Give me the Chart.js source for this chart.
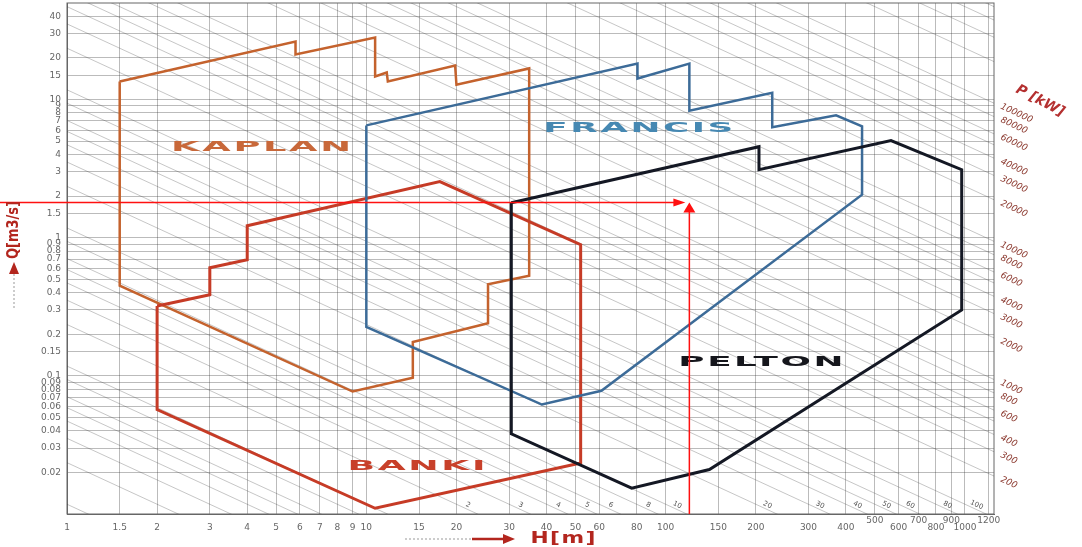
<!DOCTYPE html>
<html>
<head>
<meta charset="utf-8">
<script src="https://cdn.jsdelivr.net/npm/chart.js@4.4.0/dist/chart.umd.min.js"></script>
<style>
  html, body { margin: 0; padding: 0; background: #fff; }
</style>
</head>
<body>
<canvas id="turbines" width="1082" height="547"></canvas>
<script>
// turbine areas, head H [m] against flow Q [m3/s]
const kaplanH = [1.5, 5.8, 5.8, 10.7, 10.7, 11.7, 11.8, 19.8, 20, 35, 35, 25.5, 25.5, 14.3, 14.3, 9, 1.5, 1.5];
const kaplanQ = [13.5, 26.3, 21.2, 28.1, 14.7, 15.7, 13.5, 17.6, 12.8, 16.8, 0.53, 0.46, 0.24, 0.176, 0.097, 0.077, 0.45, 13.5];

const francisH = [10, 80.5, 80.5, 120, 120, 227, 227, 371, 453, 453, 61, 38.6, 10, 10];
const francisQ = [6.5, 18.2, 14.2, 18.2, 8.3, 11.2, 6.3, 7.7, 6.4, 2.05, 0.078, 0.062, 0.226, 6.5];

const peltonH = [30.5, 205, 205, 566, 975, 975, 140, 77, 30.5, 30.5];
const peltonQ = [1.79, 4.56, 3.11, 5.05, 3.11, 0.3, 0.021, 0.0154, 0.038, 1.79];

const bankiH = [2, 3, 3, 4, 4, 17.6, 52, 52, 10.7, 2, 2];
const bankiQ = [0.32, 0.386, 0.606, 0.693, 1.22, 2.55, 0.89, 0.0234, 0.011, 0.057, 0.32];

// worked example (red arrows)
const workH = 120;
const workQ = 1.8;

// axes
const hTicks = [1, 1.5, 2, 3, 4, 5, 6, 7, 8, 9, 10, 15, 20, 30, 40, 50, 60, 80, 100, 150, 200, 300, 400, 500, 600, 700, 800, 900, 1000, 1200];
const hUpperRow = [500, 700, 900, 1200];
const qTicks = [0.02, 0.03, 0.04, 0.05, 0.06, 0.07, 0.08, 0.09, 0.1, 0.15, 0.2, 0.3, 0.4, 0.5, 0.6, 0.7, 0.8, 0.9, 1, 1.5, 2, 3, 4, 5, 6, 7, 8, 9, 10, 15, 20, 30, 40];
const hMin = 1, hMax = 1250, qMin = 0.01, qMax = 50;

// power lines P = g * eta * Q * H [kW]
const gEta = 8.5;
const powerSteps = [1, 2, 3, 4, 5, 6, 8];
const powerDecades = [0.1, 1, 10, 100, 1000, 10000, 100000];
const pRightLabels = [100000, 80000, 60000, 40000, 30000, 20000, 10000, 8000, 6000, 4000, 3000, 2000, 1000, 800, 600, 400, 300, 200];
const pBottomLabels = [2, 3, 4, 5, 6, 8, 10, 20, 30, 40, 50, 60, 80, 100];

const area = (hs, qs, color, width) => ({
  data: hs.map((h, i) => ({ x: h, y: qs[i] })),
  showLine: true,
  borderColor: color,
  borderWidth: width,
  pointRadius: 0,
  order: 1,
});

const diagonals = [];
powerDecades.forEach((d) => {
  powerSteps.forEach((m) => {
    const p = m * d;
    diagonals.push({
      data: [{ x: hMin, y: p / (gEta * hMin) }, { x: hMax, y: p / (gEta * hMax) }],
      showLine: true,
      borderColor: "rgba(60,60,60,0.42)",
      borderWidth: 0.7,
      pointRadius: 0,
      order: 10,
    });
  });
});

function wideText(ctx, text, cx, cy, width, font, color, spacing) {
  ctx.save();
  ctx.font = font;
  ctx.letterSpacing = spacing + "px";
  const w = ctx.measureText(text).width - spacing;
  ctx.translate(cx, cy);
  ctx.scale(width / w, 1);
  ctx.fillStyle = color;
  ctx.textAlign = "left";
  ctx.textBaseline = "middle";
  ctx.fillText(text, -w / 2, 0);
  ctx.restore();
}

const overlay = {
  id: "overlay",
  beforeDatasetsDraw(chart) {
    const { ctx, chartArea: a } = chart;
    ctx.save();
    ctx.strokeStyle = "#666";
    ctx.lineWidth = 1;
    ctx.strokeRect(a.left, a.top, a.right - a.left, a.bottom - a.top);
    ctx.restore();
  },
  afterDatasetsDraw(chart) {
    const { ctx, chartArea: a, scales } = chart;
    const x = scales.x, y = scales.y;
    const dx = x.getPixelForValue(10) - x.getPixelForValue(1);
    const dy = y.getPixelForValue(1) - y.getPixelForValue(10);
    const ang = Math.atan2(dy, dx);

    // area names
    const name = "bold 14px 'DejaVu Sans'";
    wideText(ctx, "KAPLAN", x.getPixelForValue(4.45), y.getPixelForValue(4.5), 180, name, "#c8683a", 1);
    wideText(ctx, "FRANCIS", x.getPixelForValue(81), y.getPixelForValue(6.2), 190, name, "#4688b2", 1);
    wideText(ctx, "PELTON", x.getPixelForValue(208), y.getPixelForValue(0.125), 165, name, "#15161c", 1);
    wideText(ctx, "BANKI", x.getPixelForValue(14.7), y.getPixelForValue(0.0222), 138, name, "#c8402a", 1);

    // power labels on the right
    ctx.save();
    ctx.fillStyle = "#8c3a30";
    ctx.font = "italic 9px 'DejaVu Sans'";
    ctx.textBaseline = "middle";
    pRightLabels.forEach((p) => {
      const yy = y.getPixelForValue(p / (gEta * hMax));
      ctx.save();
      ctx.translate(a.right + 7, yy + 3);
      ctx.rotate(ang);
      ctx.fillText(String(p), 0, 0);
      ctx.restore();
    });
    ctx.save();
    ctx.translate(1040, 101);
    ctx.rotate(ang + 0.05);
    ctx.font = "bold italic 14px 'DejaVu Sans'";
    ctx.fillStyle = "#b43030";
    ctx.textAlign = "center";
    ctx.fillText("P [kW]", 0, 0);
    ctx.restore();
    ctx.restore();

    // power labels along the bottom
    ctx.save();
    ctx.fillStyle = "#555";
    ctx.font = "7px 'DejaVu Sans'";
    ctx.textAlign = "center";
    ctx.textBaseline = "middle";
    pBottomLabels.forEach((p) => {
      const yy = a.bottom - 9;
      const h = p / (gEta * y.getValueForPixel(yy));
      ctx.save();
      ctx.translate(x.getPixelForValue(h) + 10, yy);
      ctx.rotate(ang);
      ctx.fillText(String(p), 0, 0);
      ctx.restore();
    });
    ctx.restore();

    // red example arrows
    const px = x.getPixelForValue(workH);
    const py = y.getPixelForValue(workQ);
    ctx.save();
    ctx.strokeStyle = "#ff1010";
    ctx.fillStyle = "#ff1010";
    ctx.lineWidth = 1.5;
    ctx.beginPath();
    ctx.moveTo(0, py);
    ctx.lineTo(px - 12, py);
    ctx.moveTo(px, a.bottom);
    ctx.lineTo(px, py + 8);
    ctx.stroke();
    ctx.beginPath();
    ctx.moveTo(px - 4, py);
    ctx.lineTo(px - 16, py - 4);
    ctx.lineTo(px - 16, py + 4);
    ctx.closePath();
    ctx.fill();
    ctx.beginPath();
    ctx.moveTo(px, py);
    ctx.lineTo(px - 6, py + 10);
    ctx.lineTo(px + 6, py + 10);
    ctx.closePath();
    ctx.fill();
    ctx.restore();
  },
  afterDraw(chart) {
    const { ctx } = chart;
    ctx.save();
    // H axis title with its arrow
    ctx.strokeStyle = "#999";
    ctx.lineWidth = 1;
    ctx.setLineDash([2, 2]);
    ctx.beginPath();
    ctx.moveTo(405, 539);
    ctx.lineTo(472, 539);
    ctx.stroke();
    ctx.setLineDash([]);
    ctx.strokeStyle = "#b3261e";
    ctx.fillStyle = "#b3261e";
    ctx.lineWidth = 2.5;
    ctx.beginPath();
    ctx.moveTo(472, 539);
    ctx.lineTo(505, 539);
    ctx.stroke();
    ctx.beginPath();
    ctx.moveTo(515, 539);
    ctx.lineTo(503, 534);
    ctx.lineTo(503, 544);
    ctx.closePath();
    ctx.fill();
    wideText(ctx, "H[m]", 563, 539, 65, "bold 15px 'DejaVu Sans'", "#b3261e", 1);

    // Q axis title, rotated
    ctx.translate(14, 0);
    ctx.rotate(-Math.PI / 2);
    ctx.strokeStyle = "#999";
    ctx.lineWidth = 1;
    ctx.setLineDash([2, 2]);
    ctx.beginPath();
    ctx.moveTo(-308, 0);
    ctx.lineTo(-272, 0);
    ctx.stroke();
    ctx.setLineDash([]);
    ctx.fillStyle = "#b3261e";
    ctx.beginPath();
    ctx.moveTo(-262, 0);
    ctx.lineTo(-274, -5);
    ctx.lineTo(-274, 5);
    ctx.closePath();
    ctx.fill();
    wideText(ctx, "Q[m3/s]", -230, 0, 58, "bold 15px 'DejaVu Sans'", "#b3261e", 0);
    ctx.restore();
  },
};

const gridColor = "rgba(50,50,50,0.33)";

new Chart(document.getElementById("turbines"), {
  type: "scatter",
  data: {
    datasets: [
      area(peltonH, peltonQ, "#141824", 3),
      area(francisH, francisQ, "#3c6b98", 2.5),
      area(bankiH, bankiQ, "#c63b26", 3),
      area(kaplanH, kaplanQ, "#c4622d", 2.5),
      ...diagonals,
    ],
  },
  options: {
    responsive: false,
    animation: false,
    events: [],
    layout: { padding: { top: 3, right: 88, left: 0, bottom: 0 } },
    plugins: {
      legend: { display: false },
      tooltip: { enabled: false },
    },
    scales: {
      x: {
        type: "logarithmic",
        min: hMin,
        max: hMax,
        afterBuildTicks: (s) => {
          s.ticks = hTicks.map((v) => ({ value: v }));
        },
        afterFit: (s) => {
          s.height = 33;
          s.paddingLeft = 0;
          s.paddingRight = 0;
        },
        grid: { color: gridColor, lineWidth: 1, drawTicks: false },
        border: { display: true, color: "#666" },
        ticks: {
          autoSkip: false,
          maxRotation: 0,
          minRotation: 0,
          padding: 3,
          color: "#666",
          font: { family: "DejaVu Sans", size: 9, lineHeight: "7px" },
          callback: (v) => (hUpperRow.includes(v) ? [String(v), ""] : ["", String(v)]),
        },
      },
      y: {
        type: "logarithmic",
        min: qMin,
        max: qMax,
        afterBuildTicks: (s) => {
          s.ticks = qTicks.map((v) => ({ value: v }));
        },
        afterFit: (s) => {
          s.width = 67;
          s.paddingTop = 0;
          s.paddingBottom = 0;
        },
        grid: { color: gridColor, lineWidth: 1, drawTicks: false },
        border: { display: true, color: "#666" },
        ticks: {
          autoSkip: false,
          padding: 6,
          color: "#666",
          font: { family: "DejaVu Sans", size: 9 },
          callback: (v) => String(v),
        },
      },
    },
  },
  plugins: [overlay],
});
</script>
</body>
</html>
